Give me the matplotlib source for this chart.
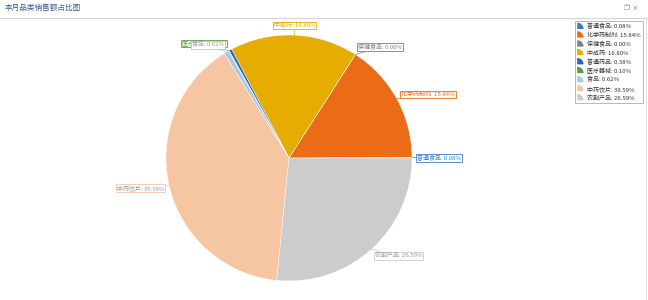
import numpy as np
import matplotlib.pyplot as plt
from matplotlib.patches import Wedge
from matplotlib.legend_handler import HandlerPatch

plt.rcParams['font.family'] = ['Noto Sans CJK SC', 'DejaVu Sans']

names = ['普通食品', '化学药制剂', '保健食品', '中成药', '普通药品', '医疗器械', '食品', '中药饮片', '农副产品']
pcts = [0.08, 15.84, 0.00, 16.80, 0.38, 0.10, 0.62, 39.59, 26.59]
colors = ['#3a7dc9', '#ec6b17', '#7f7f7f', '#e6ac00', '#3264b4', '#5b9b3c', '#a8c8ea', '#f6c5a2', '#cccccc']
# which slices get a visible label (others hidden behind neighbours)
show_label = [True, True, True, True, False, True, True, True, True]

fig = plt.figure(figsize=(6.48, 3.0), dpi=100)

# title bar
fig.text(0.008, 0.972, '本月品类销售额占比图', fontsize=5.5, color='#3b5c8f', va='center', ha='left')
fig.text(0.985, 0.972, '❐ ×', fontsize=5, color='#888888', va='center', ha='right', family='DejaVu Sans')
fig.add_artist(plt.Line2D([0, 1], [0.94, 0.94], color='#d5d5d5', lw=0.8, transform=fig.transFigure))
fig.add_artist(plt.Line2D([0.997, 0.997], [0, 0.94], color='#e0e0e0', lw=0.8, transform=fig.transFigure))

cx, cy, r = 289, 158, 123
ax = fig.add_axes([(cx - r) / 648, (300 - cy - r) / 300, 2 * r / 648, 2 * r / 300])
wedges, _ = ax.pie(pcts, colors=colors, startangle=0, counterclock=True,
                   wedgeprops=dict(edgecolor='white', linewidth=0.3))
ax.set_xlim(-1, 1)
ax.set_ylim(-1, 1)
ax.set_aspect('equal')
ax.axis('off')

for w, n, p, c, s in zip(wedges, names, pcts, colors, show_label):
    if not s:
        continue
    ang = np.deg2rad((w.theta1 + w.theta2) / 2)
    x, y = np.cos(ang), np.sin(ang)
    tx, ty = 1.04 * x, 1.07 * y
    if abs(x) < 0.15:
        ha = 'center'
        ty = 1.08
    elif x > 0:
        ha = 'left'
    else:
        ha = 'right'
    ax.annotate('%s: %.2f%%' % (n, p), xy=(x, y), xytext=(tx, ty),
                ha=ha, va='center', fontsize=4.3,
                color=c if c not in ('#cccccc', '#f6c5a2', '#a8c8ea') else '#999999',
                bbox=dict(boxstyle='square,pad=0.15', fc='white', ec=c, lw=0.6),
                arrowprops=dict(arrowstyle='-', color=c, lw=0.5, shrinkA=0, shrinkB=0),
                annotation_clip=False)


class HandlerWedge(HandlerPatch):
    def create_artists(self, legend, orig_handle, xdescent, ydescent, width, height, fontsize, trans):
        rad = height * 1.3
        p = Wedge((-xdescent, -ydescent), rad, 0, 90, fc=orig_handle.get_facecolor(), ec='none')
        p.set_transform(trans)
        return [p]


labels = ['%s: %.2f%%' % (n, p) for n, p in zip(names, pcts)]
leg = fig.legend(wedges, labels, loc='upper left', bbox_to_anchor=(0.887, 0.93),
                 fontsize=4.3, frameon=True, fancybox=False, handlelength=1.3, handleheight=0.9,
                 handletextpad=0.4, labelspacing=0.5, borderpad=0.4, borderaxespad=0,
                 handler_map={Wedge: HandlerWedge()})
leg.get_frame().set_edgecolor('#999999')
leg.get_frame().set_linewidth(0.6)
for t in leg.get_texts():
    t.set_color('#333333')

fig.savefig('out.png', dpi=100)
